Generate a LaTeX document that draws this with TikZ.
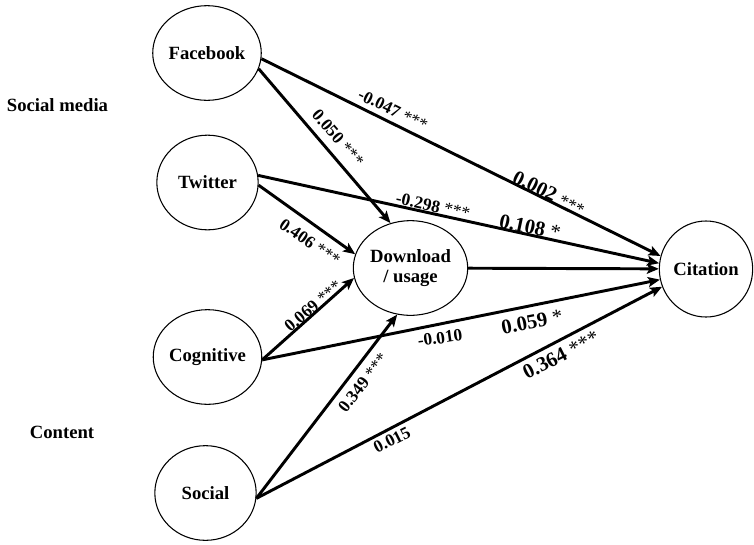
\documentclass[tikz,border=0pt]{standalone}
\usepackage{fontspec}
\setmainfont{Liberation Serif}
\usetikzlibrary{shapes.geometric,arrows.meta}
\begin{document}
\begin{tikzpicture}[x=0.75pt,y=-0.75pt,
  var/.style={draw,ellipse,line width=0.8pt,minimum width=76pt,minimum height=71pt,inner sep=0pt,font=\fontsize{14}{16}\selectfont\bfseries,align=center},
  pathedge/.style={line width=2.2pt,-{Stealth[length=9pt,width=7.5pt,inset=2pt]}},
  lab/.style={font=\fontsize{13}{15}\selectfont\bfseries,inner sep=0pt},
  biglab/.style={font=\fontsize{15.5}{17}\selectfont\bfseries,inner sep=0pt},
  grp/.style={font=\fontsize{14}{16}\selectfont\bfseries,inner sep=0pt}]
\useasboundingbox (0,0) rectangle (754,544);
% variables
\node[var] (fb) at (207,53) {Facebook};
\node[var] (tw) at (207.5,182.5) {Twitter};
\node[var] (cog) at (207.5,357) {Cognitive};
\node[var] (soc) at (205.5,493) {Social};
\node[var] (dl) at (410.5,268) {Download\\[-1pt]/ usage};
\node[var,minimum width=70pt,minimum height=72pt] (cit) at (706,269) {Citation};
% group labels
\node[grp] (gsm) at (57.5,105) {Social media};
\node[grp] (gct) at (62,432) {Content};
% paths
\draw[pathedge] (fb.-6) -- (cit.164);
\draw[pathedge] (fb.-17) -- (dl.114);
\draw[pathedge] (tw.8) -- (cit.173);
\draw[pathedge] (tw.-3) -- (dl.166);
\draw[pathedge] (dl) -- (cit);
\draw[pathedge] (cog.-3) -- (dl.190);
\draw[pathedge] (cog.-3) -- (cit.193);
\draw[pathedge] (soc.-6) -- (dl.254);
\draw[pathedge] (soc.-6) -- (cit.202);
% coefficients
\node[lab,rotate=-26] (l1) at (393,110) {-0.047 \textmd{***}};
\node[lab,rotate=-49] (l2) at (338,138) {0.050 \textmd{***}};
\node[biglab,rotate=-26] (l3) at (549,193) {0.002 \textmd{\fontsize{13}{15}\selectfont ***}};
\node[lab,rotate=-12] (l4) at (433,206) {-0.298 \textmd{***}};
\node[biglab,rotate=-12] (l5) at (530,227) {0.108 \textmd{*}};
\node[lab,rotate=-34.5] (l6) at (310,242) {0.406 \textmd{***}};
\node[lab,rotate=40.6] (l7) at (313,306) {0.069 \textmd{***}};
\node[lab,rotate=8] (l8) at (440,338) {-0.010};
\node[biglab,rotate=11] (l9) at (532,322) {0.059 \textmd{*}};
\node[lab,rotate=52] (l10) at (363,383) {0.349 \textmd{***}};
\node[biglab,rotate=27] (l11) at (561,355) {0.364 \textmd{***}};
\node[lab,rotate=27] (l12) at (392,440) {0.015};
\end{tikzpicture}
\end{document}
